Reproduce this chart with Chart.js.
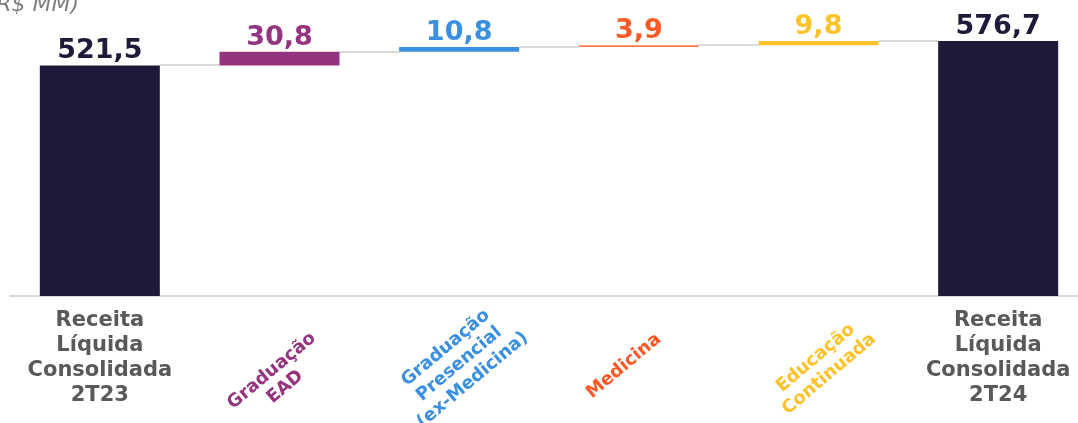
<!DOCTYPE html>
<html>
<head>
<meta charset="utf-8">
<script src="https://cdn.jsdelivr.net/npm/chart.js@4"></script>
<style>
  html, body { margin: 0; padding: 0; background: #fff; overflow: hidden; }
  canvas { display: block; }
</style>
</head>
<body>
<canvas id="Cascata" width="1100" height="423"></canvas>
<script>
// dados (R$ MM)
const categorias = [
  ['Receita', 'Líquida', 'Consolidada', '2T23'],
  ['Graduação', 'EAD'],
  ['Graduação', 'Presencial', '(ex-Medicina)'],
  ['Medicina'],
  ['Educação', 'Continuada'],
  ['Receita', 'Líquida', 'Consolidada', '2T24']
];
const valores = [521.5, 30.8, 10.8, 3.9, 9.8, 576.7];
const tipos = ['total', 'delta', 'delta', 'delta', 'delta', 'total'];
const rotulos = ['521,5', '30,8', '10,8', '3,9', '9,8', '576,7'];

const corBarra = ['#201a3a', '#943480', '#3a8fe0', '#ff7b52', '#ffc22a', '#201a3a'];
const corTexto = ['#201a3a', '#943480', '#3a8fe0', '#ff5a26', '#ffc22a', '#201a3a'];
const corEixo = ['#595959', '#943480', '#3a8fe0', '#ff5a26', '#ffc22a', '#595959'];
const ajusteX = [0, -1, 0, -15, 4, 0];
const ajusteY = [0, 13, -2, 0, 0, 0];

// monta as barras flutuantes da cascata
let acumulado = 0;
const faixas = [];
const niveis = [];
valores.forEach((v, i) => {
  if (tipos[i] === 'total') {
    faixas.push([0, v]);
    acumulado = v;
  } else {
    faixas.push([acumulado, acumulado + v]);
    acumulado += v;
  }
  niveis.push(acumulado);
});

const fonte = 'DejaVu Sans, Verdana, sans-serif';

const cascata = {
  id: 'cascata',
  beforeDatasetsDraw(chart) {
    const ctx = chart.ctx;
    const y = chart.scales.y;
    const barras = chart.getDatasetMeta(0).data;
    ctx.save();
    ctx.strokeStyle = '#d9d9d9';
    ctx.lineWidth = 2;
    for (let i = 0; i < barras.length - 1; i++) {
      const py = Math.round(y.getPixelForValue(niveis[i]));
      ctx.beginPath();
      ctx.moveTo(barras[i].x + barras[i].width / 2, py);
      ctx.lineTo(barras[i + 1].x - barras[i + 1].width / 2, py);
      ctx.stroke();
    }
    ctx.restore();
  },
  afterDatasetsDraw(chart) {
    const ctx = chart.ctx;
    const barras = chart.getDatasetMeta(0).data;
    const base = chart.chartArea.bottom;
    ctx.save();
    // valores
    ctx.font = 'bold 27px ' + fonte;
    ctx.textAlign = 'center';
    ctx.textBaseline = 'alphabetic';
    barras.forEach((b, i) => {
      ctx.fillStyle = corTexto[i];
      ctx.fillText(rotulos[i], b.x, Math.min(b.y, b.base) - 7);
    });
    // categorias
    barras.forEach((b, i) => {
      const linhas = categorias[i];
      ctx.fillStyle = corEixo[i];
      if (tipos[i] === 'total') {
        ctx.font = 'bold 21px ' + fonte;
        linhas.forEach((t, k) => ctx.fillText(t, b.x, base + 30 + k * 25));
      } else {
        ctx.font = 'bold 18px ' + fonte;
        ctx.save();
        ctx.translate(b.x + ajusteX[i], base + 70 + ajusteY[i]);
        ctx.rotate(-40 * Math.PI / 180);
        ctx.textBaseline = 'middle';
        linhas.forEach((t, k) => ctx.fillText(t, 0, (k - (linhas.length - 1) / 2) * 21));
        ctx.restore();
      }
    });
    // unidade
    ctx.font = 'italic 22px ' + fonte;
    ctx.fillStyle = '#7f7f7f';
    ctx.textAlign = 'right';
    ctx.fillText('(R$ MM)', 79, 11);
    ctx.restore();
  }
};

const ctx = document.getElementById('Cascata');
new Chart(ctx, {
  type: 'bar',
  data: {
    labels: categorias.map(c => c.join(' ')),
    datasets: [{
      data: faixas,
      backgroundColor: corBarra,
      borderWidth: 0,
      categoryPercentage: 1,
      barPercentage: 0.668
    }]
  },
  options: {
    responsive: false,
    animation: false,
    layout: { padding: { left: 10, right: 12, top: 0, bottom: 0 } },
    plugins: { legend: { display: false }, tooltip: { enabled: false } },
    scales: {
      x: {
        grid: { display: false },
        border: { color: '#d9d9d9', width: 2 },
        ticks: { display: false },
        afterFit(s) { s.height = 127; }
      },
      y: {
        display: false,
        min: 0,
        max: 669.4
      }
    }
  },
  plugins: [cascata]
});
</script>
</body>
</html>
